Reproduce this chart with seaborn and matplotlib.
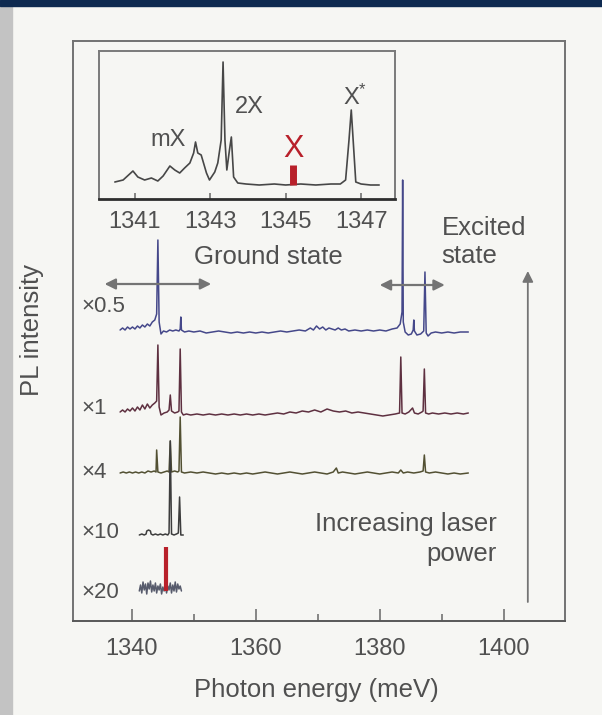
import matplotlib
matplotlib.use("Agg")
import matplotlib.pyplot as plt
from matplotlib.patches import Rectangle
import numpy as np
import pandas as pd
import seaborn as sns

# ---------------------------------------------------------------- data
# PL spectra at increasing excitation power (displayed intensity, arb. units)
energy_x05 = [1338.1, 1338.5, 1338.9, 1339.3, 1339.7, 1340.1, 1340.5, 1340.9, 1341.3, 1341.7,
              1342.1, 1342.5, 1342.9, 1343.3, 1343.7, 1344.0, 1344.2, 1344.4, 1344.7, 1345.1,
              1345.6, 1346.1, 1346.6, 1347.1, 1347.6, 1347.8, 1347.9, 1348.0, 1348.5, 1349.2,
              1350.0, 1351.0, 1352.0, 1353.0, 1354.0, 1355.0, 1356.0, 1357.0, 1358.0, 1359.0,
              1360.0, 1361.0, 1362.0, 1363.0, 1364.0, 1365.0, 1366.0, 1367.0, 1368.0, 1368.8,
              1369.3, 1369.8, 1370.3, 1370.8, 1371.3, 1371.8, 1372.3, 1372.8, 1373.3, 1373.8,
              1374.4, 1375.0, 1376.0, 1377.0, 1378.0, 1379.0, 1380.0, 1381.0, 1382.0, 1382.8,
              1383.3, 1383.6, 1383.7, 1383.8, 1384.1, 1384.6, 1385.1, 1385.4, 1385.5, 1385.6,
              1386.0, 1386.6, 1387.1, 1387.3, 1387.5, 1387.8, 1388.3, 1389.0, 1390.0, 1391.0,
              1392.0, 1393.0, 1394.3]
pl_x05 = [2, 4, 2, 5, 3, 5, 3, 6, 4, 7,
          5, 8, 6, 10, 12, 18, 92, 10, -2, 1,
          0, 2, 1, 2, 1, 3, 15, 2, 0, 1,
          0, 1, -1, 0, 1, 0, -1, 0, -1, 0,
          -1, 0, -1, 0, 1, 0, 1, 2, 1, 4,
          2, 6, 3, 5, 2, 4, 3, 2, 4, 2,
          3, 1, 2, 1, 2, 1, 2, 1, 3, 4,
          8, 20, 152, 10, 0, -3, -2, 2, 12, 1,
          -3, -2, 1, 60, -1, -4, -1, 0, -1, 0,
          -1, 0, 0]

energy_x1 = [1338.1, 1338.5, 1338.9, 1339.3, 1339.7, 1340.1, 1340.5, 1340.9, 1341.3, 1341.7,
             1342.1, 1342.5, 1342.9, 1343.3, 1343.7, 1344.0, 1344.2, 1344.4, 1344.7, 1345.2,
             1345.7, 1346.0, 1346.2, 1346.4, 1346.9, 1347.4, 1347.6, 1347.8, 1348.0, 1348.3,
             1348.8, 1349.5, 1350.5, 1351.5, 1352.5, 1353.5, 1354.5, 1355.5, 1356.5, 1357.5,
             1358.5, 1359.5, 1360.5, 1361.5, 1362.5, 1363.5, 1364.5, 1365.5, 1366.5, 1367.5,
             1368.5, 1369.5, 1370.5, 1371.5, 1372.5, 1373.5, 1374.5, 1375.5, 1376.5, 1377.5,
             1378.5, 1379.5, 1380.5, 1381.5, 1382.5, 1383.2, 1383.4, 1383.6, 1384.1, 1384.7,
             1385.3, 1385.6, 1386.2, 1386.8, 1387.0, 1387.2, 1387.4, 1387.9, 1388.5, 1389.5,
             1390.5, 1391.5, 1392.5, 1393.5, 1394.3]
pl_x1 = [1, 3, 1, 4, 2, 5, 2, 6, 3, 8,
         4, 9, 5, 8, 10, 12, 68, 6, -2, 0,
         1, 3, 18, 2, 0, 1, 2, 64, 1, -2,
         -1, -2, -1, -2, -1, -2, -1, -2, -1, -2,
         -1, -2, -1, -2, -1, 0, -1, 1, 0, 2,
         1, 3, 1, 4, 2, 1, 2, 0, 1, 0,
         -1, -2, -3, -2, -1, 0, 56, 0, -1, 1,
         5, 0, -1, 1, 2, 44, 0, -1, 0, -1,
         0, -1, 0, -1, 0]

energy_x4 = [1338.1, 1338.6, 1339.1, 1339.6, 1340.1, 1340.6, 1341.1, 1341.6, 1342.1, 1342.6,
             1343.1, 1343.6, 1343.9, 1344.0, 1344.2, 1344.7, 1345.2, 1345.7, 1346.0, 1346.2,
             1346.4, 1346.9, 1347.4, 1347.6, 1347.8, 1348.0, 1348.5, 1349.5, 1350.5, 1351.5,
             1352.5, 1353.5, 1354.5, 1355.5, 1356.5, 1357.5, 1358.5, 1359.5, 1360.5, 1361.5,
             1362.5, 1363.5, 1364.5, 1365.5, 1366.5, 1367.5, 1368.5, 1369.5, 1370.5, 1371.5,
             1372.5, 1373.0, 1373.3, 1374.0, 1375.0, 1376.0, 1377.0, 1378.0, 1379.0, 1380.0,
             1381.0, 1382.0, 1383.0, 1383.4, 1383.8, 1384.5, 1385.5, 1386.5, 1387.0, 1387.2,
             1387.4, 1388.0, 1389.0, 1390.0, 1391.0, 1392.0, 1393.0, 1394.3]
pl_x4 = [0, 1, 0, 1, 0, 1, 0, 1, 0, 2,
         1, 2, 1, 23, 1, 0, 1, 2, 1, 32,
         1, 2, 1, 2, 56, 1, 0, 1, 0, 1,
         0, -1, 0, -1, 0, -1, 0, -1, 0, 1,
         0, -1, 0, 1, 0, -1, 0, 1, 0, -1,
         1, 5, 0, 1, 0, -1, 0, 1, 0, -1,
         0, 1, 0, 3, 0, 1, 0, 1, 2, 18,
         1, 0, 1, 0, -1, 0, -1, 0]

energy_x10 = [1341.2, 1341.6, 1342.0, 1342.3, 1342.4, 1342.7, 1343.0, 1343.1, 1343.4, 1343.8,
              1344.2, 1344.6, 1345.0, 1345.4, 1345.8, 1346.0, 1346.2, 1346.4, 1346.8, 1347.2,
              1347.5, 1347.7, 1347.9, 1348.3]
pl_x10 = [0, 1, 0, 1, 4, 5, 4, 1, 0, 1,
          0, 1, 0, 1, 0, 2, 94, 1, 0, 1,
          2, 38, 0, 0]

energy_x20 = [1341.2, 1341.4, 1341.6, 1341.8, 1342.0, 1342.2, 1342.4, 1342.6, 1342.8, 1343.0,
              1343.2, 1343.4, 1343.6, 1343.8, 1344.0, 1344.2, 1344.4, 1344.6, 1344.8, 1345.0,
              1345.2, 1345.4, 1345.6, 1345.8, 1346.0, 1346.2, 1346.4, 1346.6, 1346.8, 1347.0,
              1347.2, 1347.4, 1347.6, 1347.8, 1348.0]
pl_x20 = [0, 6, -2, 9, 1, 7, -3, 8, 2, 10,
          -1, 6, 0, 8, -2, 5, 1, 7, -3, 4,
          0, 6, -2, 5, 1, 8, -2, 6, 0, 9,
          -1, 7, 2, 5, 0]

# single exciton line (X) at the lowest power
x_line_energy = 1345.5
x_line_height = 44

scale_labels = ["\u00d70.5", "\u00d71", "\u00d74", "\u00d710", "\u00d720"]

# high-resolution spectrum of the ground-state region (inset)
energy_inset = [1340.47, 1340.69, 1340.95, 1341.08, 1341.26, 1341.44, 1341.61, 1341.75, 1341.93,
                1342.06, 1342.19, 1342.32, 1342.46, 1342.56, 1342.61, 1342.67, 1342.76, 1342.90,
                1342.98, 1343.12, 1343.20, 1343.29, 1343.34, 1343.39, 1343.44, 1343.51, 1343.56,
                1343.62, 1343.73, 1343.95, 1344.3, 1344.7, 1345.0, 1345.4, 1345.8, 1346.2,
                1346.45, 1346.59, 1346.68, 1346.74, 1346.79, 1346.86, 1347.0, 1347.25, 1347.48]
pl_inset = [3, 5, 14, 8, 5, 7, 4, 9, 19,
            15, 12, 17, 22, 32, 43, 32, 30, 12,
            5, 13, 22, 45, 123, 45, 15, 35, 48,
            8, 2, 1, 0, 1, 0, 1, 0, 1,
            1, 5, 45, 75, 45, 3, 1, 0, 0]
inset_x_energy = 1345.2
inset_x_height = 20
inset_ticks = [1341, 1343, 1345, 1347]

main_ticks = [1340, 1360, 1380, 1400]

# ---------------------------------------------------------------- style
sns.set_theme(style="white")
plt.rcParams["font.family"] = ["Liberation Sans", "DejaVu Sans"]
plt.rcParams["mathtext.fontset"] = "custom"
plt.rcParams["mathtext.rm"] = "Liberation Sans"
plt.rcParams["mathtext.it"] = "Liberation Sans"

BG = "#f6f6f3"
TXT = "#505050"
SPINE = "#727272"
RED = "#b8202a"

fig = plt.figure(figsize=(6.02, 7.15), dpi=100, facecolor=BG)

# scanner page edges
fig.patches.append(Rectangle((0, 0), 12 / 602, 1, transform=fig.transFigure,
                             color="#c3c3c3", zorder=0))
fig.patches.append(Rectangle((0, 1 - 6 / 715), 1, 6 / 715, transform=fig.transFigure,
                             color="#0e2a50", zorder=1))

ax = fig.add_axes([73 / 602, 94 / 715, 492 / 602, 580 / 715])
ax.set_facecolor(BG)

# vertical offsets separating the stacked spectra
offsets = [289, 208, 148, 86, 30]
series = [(energy_x05, pl_x05), (energy_x1, pl_x1), (energy_x4, pl_x4),
          (energy_x10, pl_x10), (energy_x20, pl_x20)]
frames = []
for lab, off, (e, i) in zip(scale_labels, offsets, series):
    frames.append(pd.DataFrame({"energy": e,
                                "intensity": np.asarray(i, float) + off,
                                "trace": lab}))
spectra = pd.concat(frames, ignore_index=True)

palette = {"\u00d70.5": "#45488a", "\u00d71": "#5e3040", "\u00d74": "#525032",
           "\u00d710": "#3d3d3d", "\u00d720": "#575b6c"}
sns.lineplot(data=spectra, x="energy", y="intensity", hue="trace", palette=palette,
             estimator=None, sort=False, units="trace", lw=1.1, legend=False, ax=ax)

# X line in the lowest-power spectrum
sns.lineplot(x=[x_line_energy, x_line_energy], y=[offsets[4], offsets[4] + x_line_height],
             color=RED, lw=3, estimator=None, sort=False, solid_capstyle="butt", ax=ax)

for lab, off, dy in zip(scale_labels, offsets, [25, 4, 0, 3, -2]):
    ax.text(1331.9, off + dy, lab, ha="left", va="center", fontsize=16, color=TXT)

ax.set_xlim(1330.5, 1409.9)
ax.set_ylim(0, 580)
ax.set_xticks(main_ticks)
ax.set_xticks([1350, 1370, 1390], minor=True)
ax.set_yticks([])
ax.tick_params(axis="x", which="major", direction="in", length=9, width=1.2,
               color=SPINE, labelsize=17, labelcolor=TXT, pad=12, bottom=True)
ax.tick_params(axis="x", which="minor", direction="in", length=5, width=1.2,
               color=SPINE, bottom=True)
for s in ax.spines.values():
    s.set_color(SPINE)
    s.set_linewidth(1.4)
    s.set_visible(True)
ax.spines["bottom"].set_color("#585858")

ax.set_xlabel("Photon energy (meV)", fontsize=18.5, color=TXT)
ax.xaxis.label.set_va("center")
ax.xaxis.set_label_coords(0.495, -0.119)
ax.set_ylabel("PL intensity", fontsize=18.5, color=TXT)
ax.yaxis.label.set_va("center")
ax.yaxis.set_label_coords(-0.084, 0.502)

# ground / excited state ranges
arrow_kw = dict(arrowstyle="<|-|>", color="#747474", lw=1.6, mutation_scale=16,
                shrinkA=0, shrinkB=0)
ax.annotate("", xy=(1352.8, 337), xytext=(1335.6, 337), arrowprops=arrow_kw)
ax.annotate("", xy=(1390.5, 336), xytext=(1380.0, 336), arrowprops=arrow_kw)
ax.text(1362.1, 364, "Ground state", ha="center", va="center", fontsize=18.5, color=TXT)
ax.text(1390.0, 379, "Excited\nstate", ha="left", va="center", fontsize=18.5,
        color=TXT, linespacing=1.2)

# excitation power arrow
ax.annotate("", xy=(1403.9, 350), xytext=(1403.9, 19),
            arrowprops=dict(arrowstyle="-|>", color="#747474", lw=1.3,
                            mutation_scale=16, shrinkA=0, shrinkB=0))
ax.text(1398.9, 82, "Increasing laser\npower", ha="right", va="center",
        fontsize=18.5, color=TXT, linespacing=1.35, multialignment="right")

# ---------------------------------------------------------------- inset
axi = fig.add_axes([99 / 602, (715 - 199) / 715, 296 / 602, 148 / 715])
axi.set_facecolor(BG)
sns.lineplot(x=energy_inset, y=pl_inset, color="#474747", lw=1.2,
             estimator=None, sort=False, ax=axi)
sns.lineplot(x=[inset_x_energy, inset_x_energy], y=[0, inset_x_height], color=RED,
             lw=5, estimator=None, sort=False, solid_capstyle="butt", ax=axi)
axi.set_xlim(1340.05, 1347.9)
axi.set_ylim(-14, 134)
axi.set_xticks(inset_ticks)
axi.set_yticks([])
axi.tick_params(axis="x", direction="in", length=4, width=1.2, color=SPINE,
                labelsize=17, labelcolor=TXT, pad=9, bottom=True)
for s in axi.spines.values():
    s.set_color("#7a7a7a")
    s.set_linewidth(1.4)
    s.set_visible(True)
axi.spines["bottom"].set_color("#2e2e2e")
axi.spines["bottom"].set_linewidth(2.0)

axi.text(1341.87, 45, "mX", ha="center", va="center", fontsize=17, color=TXT)
axi.text(1344.04, 78, "2X", ha="center", va="center", fontsize=17, color=TXT)
axi.text(1346.85, 88, "X$^{*}$", ha="center", va="center", fontsize=17, color=TXT)
axi.text(inset_x_energy, 36, "X", ha="center", va="center", fontsize=22, color=RED)

fig.savefig("out.png", dpi=100, facecolor=BG)
